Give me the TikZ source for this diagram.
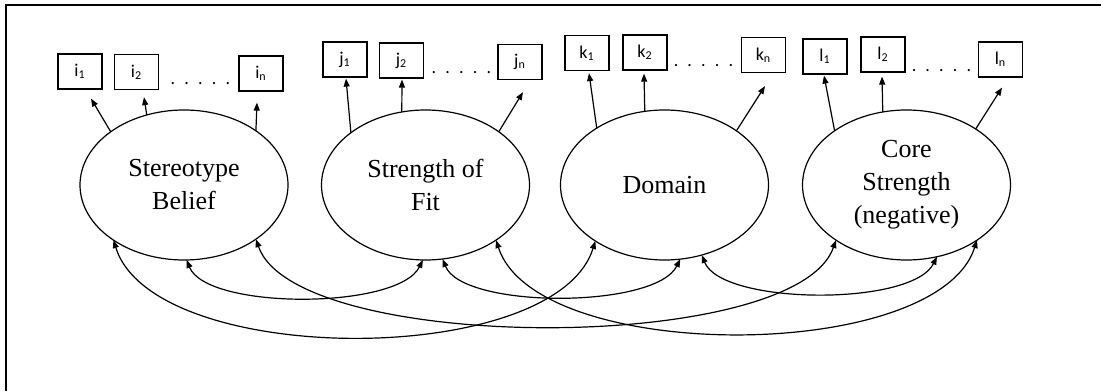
\documentclass[tikz,border=0pt]{standalone}
\usepackage{fontspec}
\newfontfamily\latentfont{Liberation Serif}
\newfontfamily\itemfont{Carlito}
\usetikzlibrary{arrows.meta, shapes.geometric}
\newcommand{\itemdots}{.\hskip4.6pt.\hskip4.6pt.\hskip4.6pt.\hskip4.6pt.}

\begin{document}
\begin{tikzpicture}[x = 0.5pt, y = 0.5pt,
		latent/.style = {draw, ellipse, line width = 0.6pt, inner sep = 0pt, outer sep = 0pt, minimum width = 104pt, minimum height = 75pt, align = center, font = \latentfont\fontsize{13}{16.5}\selectfont},
		item/.style = {draw, rectangle, line width = 0.6pt, inner sep = 0pt, minimum width = 22pt, minimum height = 17.5pt, font = \itemfont\fontsize{9}{10}\selectfont},
		dotrow/.style = {anchor = base, inner sep = 0pt, font = \itemfont\fontsize{9}{10}\selectfont},
		load/.style = {line width = 0.6pt, -{Triangle[length = 4pt, width = 3pt]}},
		cov/.style = {line width = 0.6pt, {Triangle[length = 4pt, width = 3pt]}-{Triangle[length = 4pt, width = 3pt]}}]
		\useasboundingbox (0,0) rectangle (1101,391);
		\draw [line width = 1pt] (6,0) -- (6,386) -- (1101,386);
		% latent variables
		\node [latent] (Belief) at (184,206) {Stereotype\\Belief};
		\node [latent] (Fit) at (425.5,206) {Strength of\\Fit};
		\node [latent] (Domain) at (664.5,206) {Domain};
		\node [latent] (Core) at (906.5,206) {Core\\Strength\\(negative)};
		% indicators
		\node [item] (i1) at (80,319.5) {i\textsubscript{1}};
		\node [item] (i2) at (136.5,319) {i\textsubscript{2}};
		\node [dotrow] (idots) at (200.5,306.5) {\itemdots};
		\node [item] (in) at (261,317.5) {i\textsubscript{n}};
		\node [item] (j1) at (345,331.5) {j\textsubscript{1}};
		\node [item] (j2) at (401.5,330.5) {j\textsubscript{2}};
		\node [dotrow] (jdots) at (461.5,317.5) {\itemdots};
		\node [item] (jn) at (520,329) {j\textsubscript{n}};
		\node [item] (k1) at (587,338) {k\textsubscript{1}};
		\node [item] (k2) at (645,338.5) {k\textsubscript{2}};
		\node [dotrow] (kdots) at (703.5,324.5) {\itemdots};
		\node [item] (kn) at (763.5,336) {k\textsubscript{n}};
		\node [item] (l1) at (825,334.5) {l\textsubscript{1}};
		\node [item] (l2) at (883,336.5) {l\textsubscript{2}};
		\node [dotrow] (ldots) at (941.5,319.5) {\itemdots};
		\node [item] (ln) at (1000.5,331.5) {l\textsubscript{n}};
		% loadings
		\draw [load] (Belief.144) -- ([shift = {(11,-9)}]i1.south);
		\draw [load] (Belief.118) -- ([shift = {(7.5,-7)}]i2.south);
		\draw [load] (Belief.37) -- ([shift = {(-4,-11)}]in.south);
		\draw [load] (Fit.145) -- ([shift = {(1,-1)}]j1.south);
		\draw [load] (Fit.108) -- ([shift = {(0.5,-1)}]j2.south);
		\draw [load] (Fit.36) -- ([shift = {(3,-12)}]jn.south);
		\draw [load] (Domain.140) -- ([shift = {(2,-2)}]k1.south);
		\draw [load] (Domain.105) -- ([shift = {(-1,-3)}]k2.south);
		\draw [load] (Domain.37) -- ([shift = {(1.5,-13)}]kn.south);
		\draw [load] (Core.143) -- ([shift = {(-1,-1)}]l1.south);
		\draw [load] (Core.108) -- ([shift = {(-1,-4)}]l2.south);
		\draw [load] (Core.39) -- ([shift = {(1.5,-10)}]ln.south);
		% covariances
		\draw [cov] (Belief.272) .. controls +(20,-50) and +(-25,-50) .. (Fit.268);
		\draw [cov] (Fit.283) .. controls +(20,-50) and +(-25,-50) .. (Domain.282);
		\draw [cov] (Domain.298) .. controls +(20,-50) and +(-25,-50) .. (Core.293);
		\draw [cov] (Belief.218) .. controls +(40,-128) and +(-40,-128) .. (Domain.219);
		\draw [cov] (Belief.323) .. controls +(40,-115) and +(-40,-115) .. (Core.218);
		\draw [cov] (Fit.322) .. controls +(40,-124) and +(-40,-124) .. (Core.322);
	\end{tikzpicture}
\end{document}
